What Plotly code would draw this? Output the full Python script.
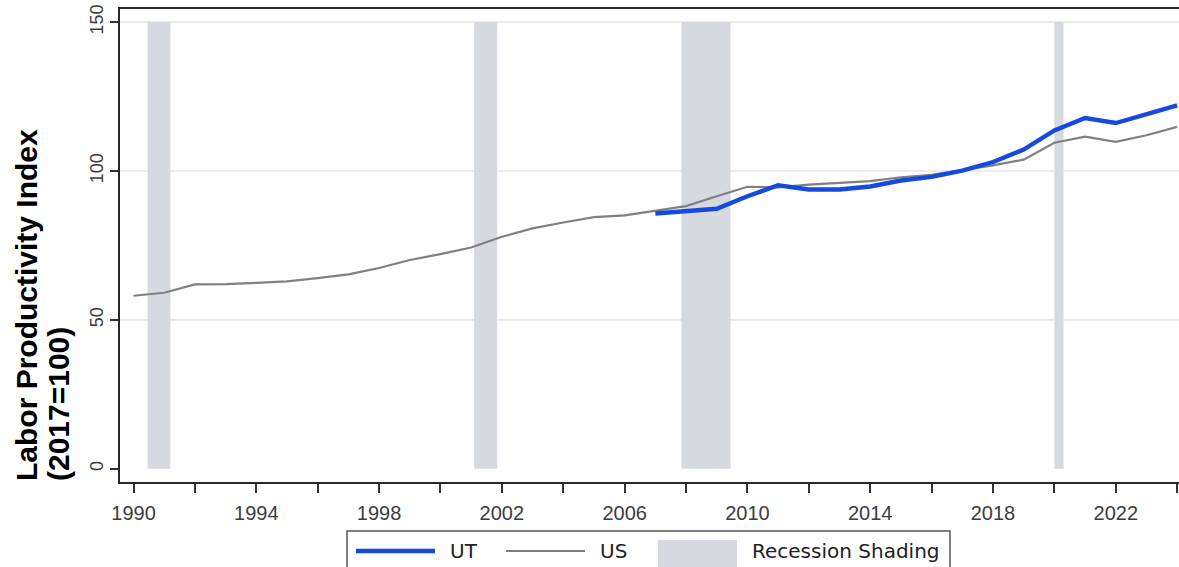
import plotly.graph_objects as go

# ---------------- data ----------------
us_years = list(range(1990, 2025))
us_values = [58.1, 59.1, 61.9, 62.0, 62.4, 62.9, 64.0, 65.3, 67.4, 70.1,
             72.1, 74.3, 77.9, 80.7, 82.7, 84.5, 85.1, 86.6, 88.2, 91.5,
             94.7, 94.5, 95.4, 96.0, 96.6, 97.9, 98.7, 100.3, 101.9, 103.8,
             109.5, 111.5, 109.8, 112.0, 114.8]

ut_years = list(range(2007, 2025))
ut_values = [85.7, 86.4, 87.3, 91.5, 95.2, 93.8, 93.8, 94.8, 96.8, 98.0,
             100.1, 103.0, 107.2, 113.6, 117.8, 116.1, 119.0, 122.0]

recession_start = [1990.46, 2001.10, 2007.85, 2020.00]
recession_end = [1991.20, 2001.85, 2009.45, 2020.30]
recession_bottom = 0
recession_top = 150

y_ticks = [0, 50, 100, 150]
y_grid = [50, 100, 150]
x_label_ticks = list(range(1990, 2023, 4))

series_names = ["UT", "US", "Recession Shading"]
y_title_lines = ["Labor Productivity Index", "(2017=100)"]

# ---------------- styles ----------------
UT_COLOR = "rgb(22,74,222)"
US_COLOR = "rgb(128,128,128)"
REC_COLOR = "rgb(214,217,224)"
W, H = 1179, 567
ML, MR, MT, MB = 120, 0, 9, 85
PW, PH = W - ML - MR, H - MT - MB


def px(x):  # page pixel -> paper x
    return (x - ML) / PW


def py(y):  # page pixel -> paper y
    return (H - MB - y) / PH


# ---------------- recession polygons ----------------
rx, ry = [], []
for s, e in zip(recession_start, recession_end):
    rx += [s, e, e, s, s, None]
    ry += [recession_bottom, recession_bottom, recession_top, recession_top, recession_bottom, None]

fig = go.Figure()
fig.add_trace(go.Scatter(
    x=rx, y=ry, fill="toself", mode="lines", line=dict(width=0),
    fillcolor=REC_COLOR, name=series_names[2], hoverinfo="skip", showlegend=False))
fig.add_trace(go.Scatter(
    x=us_years, y=us_values, mode="lines", name=series_names[1],
    line=dict(color=US_COLOR, width=2.2), showlegend=False))
fig.add_trace(go.Scatter(
    x=ut_years, y=ut_values, mode="lines", name=series_names[0],
    line=dict(color=UT_COLOR, width=4.4), showlegend=False))

for g in y_grid:
    fig.add_shape(type="line", xref="paper", yref="y", x0=0, x1=1, y0=g, y1=g,
                  line=dict(color="rgb(230,230,230)", width=1.6), layer="below")

# ---------------- legend (drawn as layout decorations) ----------------
leg_font = dict(family="DejaVu Sans", size=20, color="rgb(34,34,34)")
fig.add_shape(type="rect", xref="paper", yref="paper",
              x0=px(347), x1=px(950), y0=py(531), y1=py(590),
              line=dict(color="rgb(85,85,85)", width=1.5), fillcolor="white")
item_y = 551
fig.add_shape(type="line", xref="paper", yref="paper", x0=px(356), x1=px(435),
              y0=py(item_y), y1=py(item_y), line=dict(color=UT_COLOR, width=4.4))
fig.add_shape(type="line", xref="paper", yref="paper", x0=px(506), x1=px(585),
              y0=py(item_y), y1=py(item_y), line=dict(color=US_COLOR, width=2.2))
fig.add_shape(type="rect", xref="paper", yref="paper", x0=px(658), x1=px(737),
              y0=py(540), y1=py(580), line=dict(width=0), fillcolor=REC_COLOR)
for name, lx in zip(series_names, [449, 599, 751]):
    fig.add_annotation(text=name, xref="paper", yref="paper", x=px(lx), y=py(item_y),
                       xanchor="left", yanchor="middle", showarrow=False,
                       font=leg_font, borderpad=0)

# ---------------- y-axis title, two bottom-aligned lines ----------------
for line_text, cx in zip(y_title_lines, [26, 58]):
    fig.add_annotation(
        text=line_text, textangle=-90,
        xref="paper", yref="paper", x=px(cx), y=py(482),
        xanchor="center", yanchor="bottom", showarrow=False, borderpad=0,
        font=dict(family="Liberation Sans", size=30, color="black", weight="bold"))

fig.update_layout(
    width=W, height=H,
    margin=dict(l=ML, r=MR, t=MT, b=MB),
    paper_bgcolor="white", plot_bgcolor="white",
    showlegend=False,
    font=dict(family="Liberation Sans"),
)

fig.update_xaxes(
    range=[1989.56, 2024.06], tickmode="array", tickvals=x_label_ticks,
    ticks="outside", ticklen=9, tickwidth=1.6, tickcolor="rgb(51,51,51)",
    minor=dict(dtick=2, tick0=1990, ticks="outside", ticklen=9, tickwidth=1.6,
               tickcolor="rgb(51,51,51)", showgrid=False),
    showgrid=False, zeroline=False, showline=True, mirror=True,
    linecolor="rgb(40,40,40)", linewidth=2, ticklabelstandoff=3,
    tickfont=dict(family="Liberation Sans", size=20, color="rgb(60,60,60)"))

fig.update_yaxes(
    range=[-4.46, 154.4], tickmode="array", tickvals=y_ticks, tickangle=-90,
    ticks="outside", ticklen=8, tickwidth=1.6, tickcolor="rgb(51,51,51)",
    showgrid=False, zeroline=False, showline=True,
    linecolor="rgb(40,40,40)", linewidth=2,
    tickfont=dict(family="Liberation Sans", size=18, color="rgb(60,60,60)"))

fig.write_html("out.html", config={"displayModeBar": False},
               post_script="document.body.style.margin='0';")
